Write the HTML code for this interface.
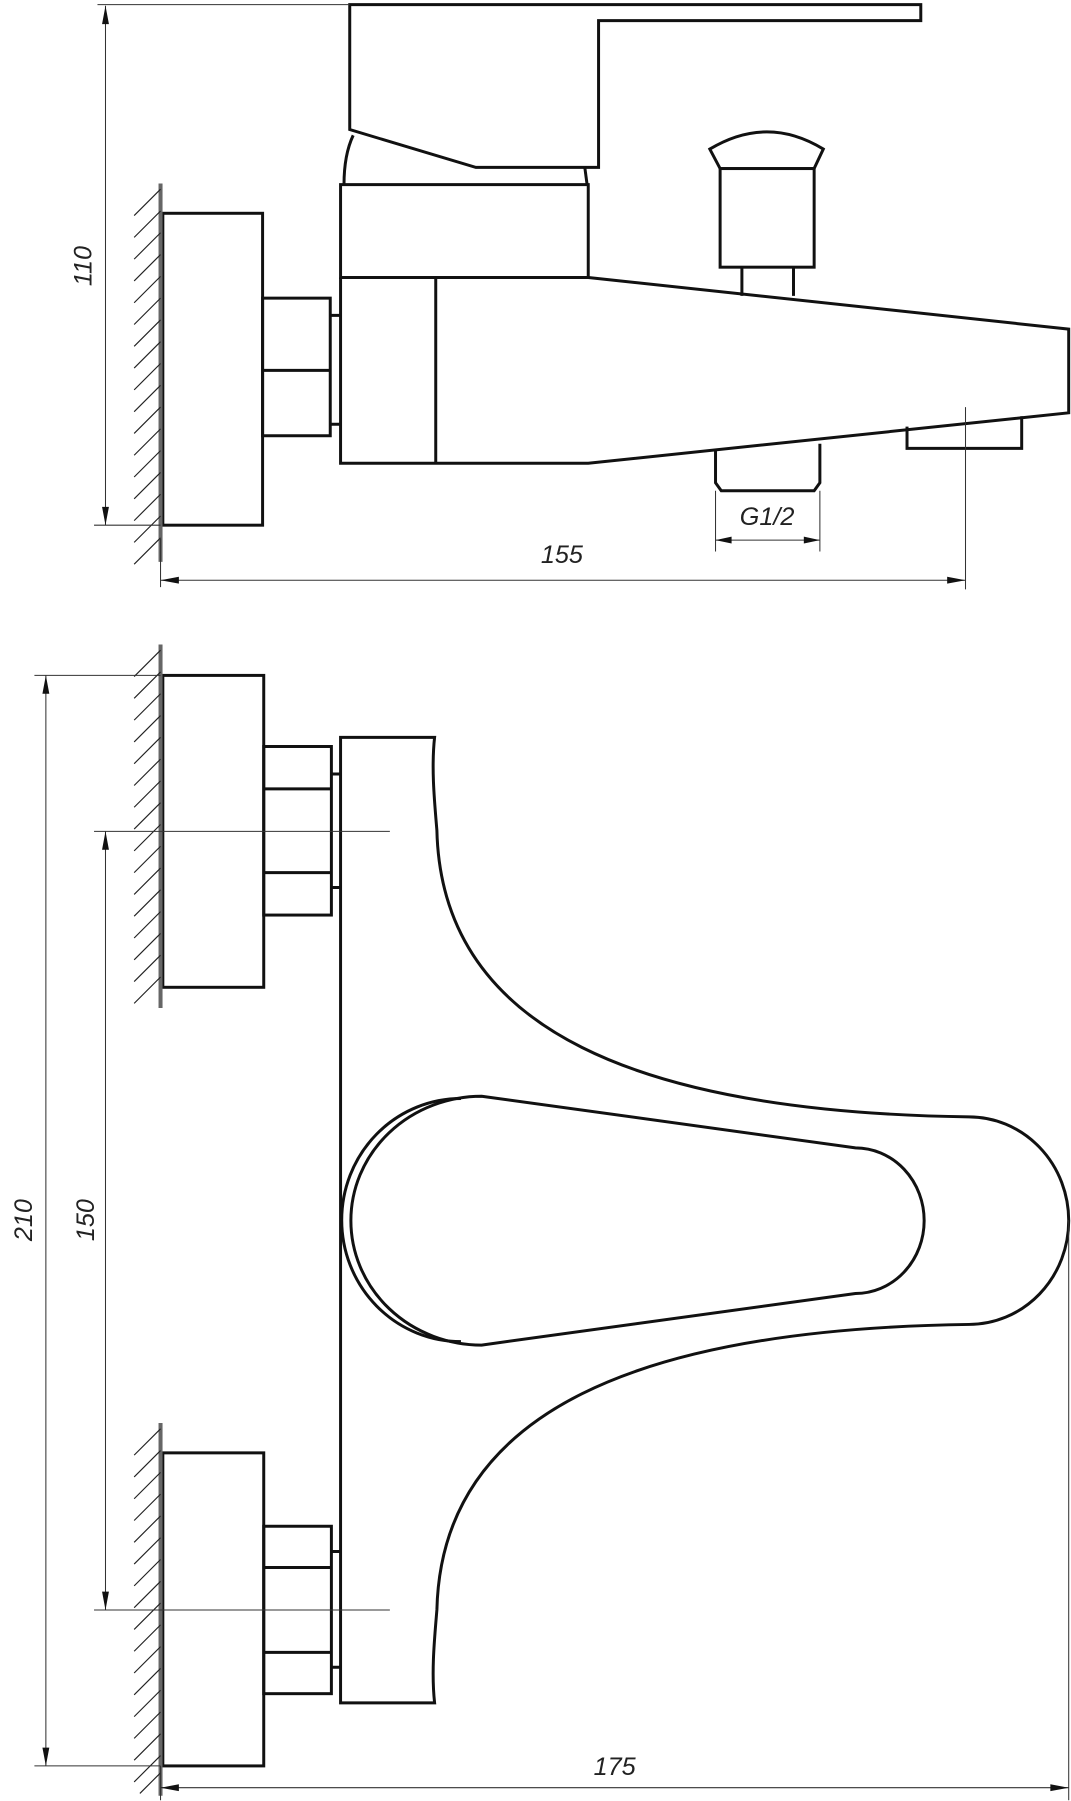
<!DOCTYPE html>
<html><head><meta charset="utf-8"><style>
html,body{margin:0;padding:0;background:#fff;}
svg{display:block;}
text{font-family:"Liberation Sans",sans-serif;font-style:italic;fill:#222;}
</style></head><body>
<svg width="1071" height="1801" viewBox="0 0 934 1570.6" preserveAspectRatio="none" xmlns="http://www.w3.org/2000/svg">
<g fill="none" stroke="#111" stroke-width="2.6" stroke-linejoin="miter">
<!-- TOP VIEW -->
<rect x="142" y="186" width="87" height="272"/>
<rect x="229" y="260" width="59" height="120"/>
<line x1="229" y1="323" x2="288" y2="323"/>
<path d="M288,275 H296 M288,370 H296"/>
<rect x="297" y="161" width="216" height="81"/>
<path d="M297,242 V404 H513 L932,360 V287 L513,242"/>
<line x1="380" y1="242" x2="380" y2="404"/>
<path d="M305,4 H803 V18 H522 V146 H415 L305,113 Z"/>
<path d="M308,118 Q300,135 300,161"/>
<path d="M510,146 L512,161"/>
<path d="M628,147 L619,130 Q669,100 718,130 L710,147 Z"/>
<rect x="628" y="147" width="82" height="86"/>
<path d="M647,233 V258 M692,233 V258"/>
<path d="M624,392 V421 L629,428 H710 L715,421 V387"/>
<path d="M791,372 V391 H891 V363"/>
<!-- BOTTOM VIEW -->
<rect x="142" y="589" width="88" height="272"/>
<rect x="230" y="651" width="59" height="147"/>
<path d="M230,688 H289 M230,761 H289 M289,675 H297 M289,774 H297"/>
<rect x="142" y="1267" width="88" height="273"/>
<rect x="230" y="1331" width="59" height="146"/>
<path d="M230,1367 H289 M230,1441 H289 M289,1353 H297 M289,1454 H297"/>
<path d="M297,643 H379 C376,670 379,700 381,724 C385,900 560,970 845,974 A87,90.5 0 0 1 845,1155 C560,1159 385,1229 381,1404 C379,1428 376,1458 379,1485 H297 Z"/>
<path d="M420,956 L746,1001 A60,63.5 0 0 1 746,1128 L420,1173 A114,108.5 0 0 1 420,956 Z"/>
<path d="M402,958 A104,106 0 0 0 402,1170"/>
</g>
<!-- walls -->
<g stroke="#666" stroke-width="3.5">
<line x1="140" y1="160" x2="140" y2="490"/>
<line x1="140" y1="562" x2="140" y2="879"/>
<line x1="140" y1="1241" x2="140" y2="1566"/>
</g>
<g stroke="#222" stroke-width="1">
<path d="M140,165 l-23,23 M140,184 l-23,23 M140,203 l-23,23 M140,222 l-23,23 M140,241 l-23,23 M140,260 l-23,23 M140,279 l-23,23 M140,298 l-23,23 M140,317 l-23,23 M140,336 l-23,23 M140,355 l-23,23 M140,374 l-23,23 M140,393 l-23,23 M140,412 l-23,23 M140,431 l-23,23 M140,450 l-23,23 M140,469 l-23,23"/>
<path d="M140,567 l-23,23 M140,586 l-23,23 M140,605 l-23,23 M140,624 l-23,23 M140,643 l-23,23 M140,662 l-23,23 M140,681 l-23,23 M140,700 l-23,23 M140,719 l-23,23 M140,738 l-23,23 M140,757 l-23,23 M140,776 l-23,23 M140,795 l-23,23 M140,814 l-23,23 M140,833 l-23,23 M140,852 l-23,23"/>
<path d="M140,1246 l-23,23 M140,1265 l-23,23 M140,1284 l-23,23 M140,1303 l-23,23 M140,1322 l-23,23 M140,1341 l-23,23 M140,1360 l-23,23 M140,1379 l-23,23 M140,1398 l-23,23 M140,1417 l-23,23 M140,1436 l-23,23 M140,1455 l-23,23 M140,1474 l-23,23 M140,1493 l-23,23 M140,1512 l-23,23 M140,1531 l-23,23 M140,1546 l-18,18"/>
</g>
<!-- dimension lines -->
<g stroke="#333" stroke-width="0.9" fill="none">
<path d="M85,4 H305 M82,458 H140 M92,5 V458"/>
<path d="M140,470 V512 M842,355 V514 M140,506 H842"/>
<path d="M624,428 V481 M715,428 V481 M624,471 H715"/>
<path d="M30,589 H140 M30,1540 H140 M40,589 V1540"/>
<path d="M82,725 H340 M82,1404 H340 M92,725 V1404"/>
<path d="M140,1540 V1570 M932,1064 V1570 M140,1559 H932"/>
</g>
<g fill="#111">
<path d="M92,5 l-3,16 h6 Z M92,458 l-3,-16 h6 Z"/>
<path d="M140,506 l16,-3 v6 Z M842,506 l-16,-3 v6 Z"/>
<path d="M624,471 l14,-3 v6 Z M715,471 l-14,-3 v6 Z"/>
<path d="M40,589 l-3,16 h6 Z M40,1540 l-3,-16 h6 Z"/>
<path d="M92,725 l-3,16 h6 Z M92,1404 l-3,-16 h6 Z"/>
<path d="M140,1559 l16,-3 v6 Z M932,1559 l-16,-3 v6 Z"/>
</g>
<g font-size="22">
<text x="0" y="0" transform="translate(80,232) rotate(-90)" text-anchor="middle">110</text>
<text x="490" y="491" text-anchor="middle">155</text>
<text x="669" y="458" text-anchor="middle">G1/2</text>
<text x="0" y="0" transform="translate(28,1064) rotate(-90)" text-anchor="middle">210</text>
<text x="0" y="0" transform="translate(82,1064) rotate(-90)" text-anchor="middle">150</text>
<text x="536" y="1548" text-anchor="middle">175</text>
</g>
</svg>
</body></html>
